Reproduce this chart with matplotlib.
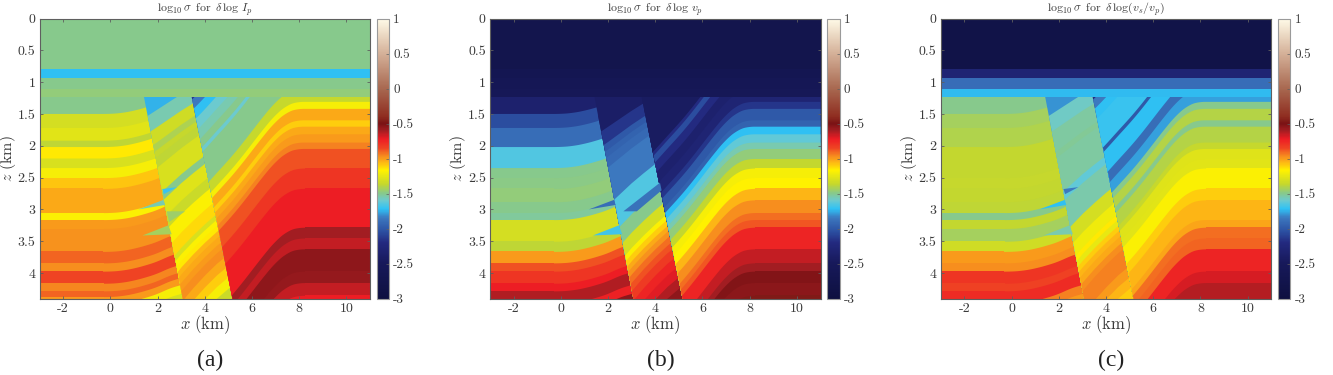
import numpy as np
import matplotlib
matplotlib.use('Agg')
import matplotlib.pyplot as plt
from matplotlib.colors import LinearSegmentedColormap, Normalize
from matplotlib.cm import ScalarMappable
from matplotlib.patches import Polygon

plt.rcParams['mathtext.fontset'] = 'cm'
plt.rcParams['axes.formatter.use_mathtext'] = True

# colour scale
cbar_vals = [-3, -2.5, -2.2, -2.05, -1.85, -1.72, -1.6, -1.5, -1.37, -1.17, -1.05, -0.95, -0.85, -0.72, -0.6, -0.5, -0.4, 0, 0.5, 1]
cbar_cols = ['#0e1040', '#17195a', '#232a80', '#2b4ea0', '#3c78bf', '#2fc2f5', '#6ccad0', '#86c98e', '#c4d72e', '#fff200',
             '#fdb515', '#f58220', '#ef4423', '#ed1c24', '#a31d22', '#7a1214', '#8f2d20', '#a86850', '#d4b098', '#fffbe8']

# flat layers on top, same in every panel
top_z = [0, 0.8, 0.93, 1.1]
top_a = [-1.5, -1.72, -1.5, -1.47]
top_b = [-2.75, -2.65, -2.6, -2.55]
top_c = [-2.85, -2.3, -1.9, -1.73]
base_z = 1.24

# faults, x at base_z and at the bottom of the section
fault1_x = [1.43, 3.07]
fault2_x = [3.45, 5.17]
fault_z = [1.24, 4.4]

# left block: bed depth on the flat part + shift along x
left_tops = [1.0, 1.5, 1.72, 1.92, 2.02, 2.2, 2.35, 2.5, 2.67, 2.88, 3.05, 3.16, 3.3, 3.5, 3.66, 3.84, 3.97, 4.16, 4.28, 4.37, 4.48, 4.62]
left_a = [-1.5, -1.32, -1.27, -1.38, -1.15, -1.3, -1.2, -1.08, -1.03, -1.03, -1.18, -1.0, -0.98, -0.98, -0.9, -0.97, -0.85, -0.96, -0.9, -1.0, -1.2, -1.3]
left_b = [-2.35, -2.05, -1.9, -1.9, -1.65, -1.65, -1.5, -1.49, -1.47, -1.5, -1.52, -1.32, -1.32, -1.38, -1.0, -0.87, -0.8, -0.72, -0.62, -0.62, -0.74, -0.55]
left_c = [-1.5, -1.43, -1.41, -1.41, -1.37, -1.37, -1.37, -1.36, -1.37, -1.38, -1.5, -1.37, -1.43, -1.33, -1.0, -0.97, -0.8, -0.84, -0.77, -0.77, -0.95, -1.0]
left_guide_x = [-3, 0, 0.5, 1, 1.5, 2, 2.5, 3, 3.5]
left_guide_dz = [0, 0, -0.015, -0.05, -0.1, -0.16, -0.25, -0.3, -0.36]

# middle block: bed depth at x=3 + shift, shallow and deep guide
mid_tops = [0, 1.19, 1.45, 1.67, 1.78, 1.88, 2.04, 2.45, 2.59, 2.85, 3.06, 3.35, 3.59, 3.69, 3.80, 3.90, 4.01, 4.14, 4.27, 4.45, 4.65, 4.85, 5.05]
mid_a = [-1.75, -1.55, -1.33, -1.42, -1.36, -1.38, -1.3, -1.5, -1.28, -1.35, -1.18, -1.12, -1.3, -1.18, -1.15, -1.05, -1.03, -1.0, -0.97, -1.03, -1.1, -1.2, -1.35]
mid_b = [-2.4, -2.4, -2.15, -2.0, -1.95, -1.92, -1.85, -1.85, -1.65, -1.65, -1.5, -1.32, -1.18, -1.1, -1.03, -0.98, -0.92, -0.87, -0.82, -0.75, -0.7, -0.62, -0.55]
mid_c = [-1.8, -1.58, -1.53, -1.53, -1.51, -1.53, -1.53, -1.62, -1.54, -1.54, -1.32, -1.22, -1.15, -1.25, -1.1, -1.05, -1.03, -0.97, -0.95, -0.95, -1.0, -1.05, -1.1]
mid_guide_x = [1, 1.5, 2, 2.5, 3, 3.5, 4, 4.5, 5, 5.5]
mid_guide_shallow = [0.5, 0.36, 0.24, 0.12, 0, -0.11, -0.22, -0.33, -0.44, -0.55]
mid_guide_deep = [0.9, 0.7, 0.5, 0.25, 0, -0.22, -0.42, -0.6, -0.75, -0.9]

# right block: bed depth on the flat part (x>8) + ramp
right_tops = [-9, -0.46, -0.29, -0.1, 0.1, 0.29, 0.45, 0.53, 0.6, 0.73, 0.91, 1.11, 1.31, 1.42, 1.6, 1.7, 1.82, 1.95, 2.05, 2.2, 2.35, 2.5, 2.67, 2.85, 3.05, 3.16, 3.28, 3.45, 3.62, 3.84, 3.97, 4.15, 4.35]
right_a = [-2.15, -1.85, -1.72, -1.6, -1.55, -1.5, -1.6, -1.5, -1.5, -1.5, -1.5, -1.36, -1.2, -1.03, -1.1, -1.03, -1.0, -0.95, -0.87, -0.87, -0.8, -0.8, -0.72, -0.72, -0.72, -0.72, -0.6, -0.65, -0.55, -0.55, -0.57, -0.65, -0.72]
right_b = [-2.45, -2.45, -2.45, -2.45, -2.45, -2.45, -2.45, -2.2, -2.05, -2.2, -2.35, -2.3, -2.15, -2.0, -1.95, -1.72, -1.62, -1.55, -1.47, -1.37, -1.2, -1.17, -1.05, -0.97, -0.92, -0.88, -0.75, -0.75, -0.65, -0.6, -0.52, -0.54, -0.47]
right_c = [-2.2, -1.85, -1.72, -1.7, -1.7, -1.7, -2.0, -1.72, -1.72, -1.72, -1.9, -1.78, -1.5, -1.4, -1.5, -1.4, -1.4, -1.36, -1.28, -1.27, -1.18, -1.18, -1.1, -1.05, -1.05, -1.02, -0.92, -0.9, -0.75, -0.75, -0.68, -0.63, -0.63]
ramp_x = [3, 3.5, 4, 4.5, 5, 5.5, 6, 6.5, 7, 7.5, 7.9, 11]
ramp_dz = [1.9, 1.72, 1.53, 1.32, 1.12, 0.9, 0.66, 0.42, 0.2, 0.05, 0, 0]

# small slivers next to the faults
w1_x, w1_z = [1.19, 2.25, 2.32], [3.0, 2.85, 2.93]
w2_x, w2_z = [1.36, 2.46, 2.6], [3.41, 3.25, 3.39]
w3_x, w3_z = [2.39, 3.17, 2.49], [3.03, 3.03, 3.2]
w4_x, w4_z = [2.65, 3.22, 4.27, 4.2], [3.03, 3.03, 2.7, 2.58]
w5_x, w5_z = [2.2, 2.27, 2.83], [2.68, 2.76, 2.65]
slivers_a = [(w1_x, w1_z, -1.55), (w2_x, w2_z, -1.43), (w3_x, w3_z, -1.45), (w5_x, w5_z, -1.7)]
slivers_b = [(w1_x, w1_z, -1.9), (w2_x, w2_z, -1.68), (w4_x, w4_z, -1.88)]
slivers_c = [(w1_x, w1_z, -1.72), (w2_x, w2_z, -1.55), (w5_x, w5_z, -1.85)]

panel_titles = [r'$\log_{10}\sigma\;\;\mathrm{for}\;\;\delta\,\log\,I_p$',
                r'$\log_{10}\sigma\;\;\mathrm{for}\;\;\delta\,\log\,v_p$',
                r'$\log_{10}\sigma\;\;\mathrm{for}\;\;\delta\,\log(v_s/v_p)$']
panel_tags = ['(a)', '(b)', '(c)']
panel_left = [39.5, 490, 940.7]
tag_x = [210, 660.7, 1111]
cbar_ticks = [-3, -2.5, -2, -1.5, -1, -0.5, 0, 0.5, 1]
cbar_labels = ['-3', '-2.5', '-2', '-1.5', '-1', '-0.5', '0', '0.5', '1']
z_ticks = [0, 0.5, 1, 1.5, 2, 2.5, 3, 3.5, 4]
z_labels = ['0', '0.5', '1', '1.5', '2', '2.5', '3', '3.5', '4']
x_ticks = [-2, 0, 2, 4, 6, 8, 10]
x_labels = ['-2', '0', '2', '4', '6', '8', '10']

W, H = 1333.0, 375.0
top_px, bot_px = 18.5, 298.5
ax_w, gap, cb_w = 330.5, 6.5, 12.5
edge = '#5f5f5f'
txt = '#3a3a3a'
tick_font = 'cmr10'

cmap = LinearSegmentedColormap.from_list('sig', [((v + 3) / 4.0, c) for v, c in zip(cbar_vals, cbar_cols)], N=512)
norm = Normalize(-3, 1)
xx = np.linspace(-3, 11, 561)


def smooth(y, n=25):
    pad = np.r_[np.full(n, y[0]), y, np.full(n, y[-1])]
    return np.convolve(pad, np.ones(n) / n, mode='same')[n:-n]


left_dz = smooth(np.interp(xx, left_guide_x, left_guide_dz))
mid_shallow = np.interp(xx, mid_guide_x, mid_guide_shallow)
mid_deep = np.interp(xx, mid_guide_x, mid_guide_deep)
right_dz = smooth(np.interp(xx, ramp_x, ramp_dz))


def left_bed(z0):
    return z0 + left_dz


def mid_bed(z0):
    t = np.clip((z0 - 1.3) / 3.1, 0, 1.3)
    return z0 + (1 - t) * mid_shallow + t * mid_deep


def right_bed(z0):
    return z0 + right_dz


def draw_block(ax, tops, vals, bed, corners):
    clip = Polygon(corners, transform=ax.transData)
    # deep beds paint over the shallow ones, no seams this way
    for z0, v in zip(tops, vals):
        p = ax.fill_between(xx, bed(z0), 8, color=cmap(norm(v)), lw=0)
        p.set_clip_path(clip)


fig = plt.figure(figsize=(W / 100, H / 100), dpi=100)

tables = [(top_a, left_a, mid_a, right_a, slivers_a),
          (top_b, left_b, mid_b, right_b, slivers_b),
          (top_c, left_c, mid_c, right_c, slivers_c)]

for i, (top_v, left_v, mid_v, right_v, slivers) in enumerate(tables):
    L = panel_left[i]
    ax = fig.add_axes([L / W, 1 - bot_px / H, ax_w / W, (bot_px - top_px) / H])

    # each block runs a bit under the next one, and under the flat layers
    f1 = np.polyfit(fault_z, fault1_x, 1)
    f2 = np.polyfit(fault_z, fault2_x, 1)
    zt, zb = 1.1, 4.6
    block1 = [(-4, zt), (np.polyval(f1, zt) + 0.2, zt), (np.polyval(f1, zb) + 0.2, zb), (-4, zb)]
    block2 = [(np.polyval(f1, zt), zt), (np.polyval(f2, zt) + 0.2, zt), (np.polyval(f2, zb) + 0.2, zb), (np.polyval(f1, zb), zb)]
    block3 = [(np.polyval(f2, zt), zt), (12, zt), (12, zb), (np.polyval(f2, zb), zb)]
    draw_block(ax, left_tops, left_v, left_bed, block1)
    draw_block(ax, mid_tops, mid_v, mid_bed, block2)
    draw_block(ax, right_tops, right_v, right_bed, block3)

    for sx, sz, v in slivers:
        ax.fill(sx, sz, color=cmap(norm(v)), lw=0)

    ends = top_z[1:] + [base_z]
    for z0, z1, v in zip(top_z, ends, top_v):
        ax.axhspan(z0, z1, color=cmap(norm(v)), lw=0)

    ax.set_xlim(-3, 11)
    ax.set_ylim(4.4, 0)
    ax.set_xticks(x_ticks)
    ax.set_xticklabels(x_labels, family=tick_font, fontsize=10, color=txt)
    ax.set_yticks(z_ticks)
    ax.set_yticklabels(z_labels, family=tick_font, fontsize=10, color=txt)
    ax.tick_params(direction='in', length=2.5, width=0.6, color=edge, top=True, right=True, pad=3)
    for s in ax.spines.values():
        s.set_color(edge)
        s.set_linewidth(0.8)
    ax.set_xlabel(r'$x\ \mathrm{(km)}$', fontsize=12, color=txt, labelpad=-1)
    ax.set_ylabel(r'$z\ \mathrm{(km)}$', fontsize=11.5, color=txt, va='center')
    ax.yaxis.set_label_coords(-32.0 / ax_w, 0.5)
    ax.set_title(panel_titles[i], fontsize=8.5, color=txt, pad=5)

    cax = fig.add_axes([(L + ax_w + gap) / W, 1 - bot_px / H, cb_w / W, (bot_px - top_px) / H])
    cb = fig.colorbar(ScalarMappable(norm=norm, cmap=cmap), cax=cax)
    cb.set_ticks(cbar_ticks)
    cb.set_ticklabels(cbar_labels, family=tick_font, fontsize=9.5, color=txt)
    cax.tick_params(direction='in', length=2, width=0.5, color=edge, pad=3)
    cb.outline.set_edgecolor('#9a9a9a')
    cb.outline.set_linewidth(0.8)

    fig.text(tag_x[i] / W, 1 - 360 / H, panel_tags[i], family='Liberation Serif', fontsize=17,
             color='#222222', ha='center', va='center')

fig.savefig('out.png', dpi=100)
